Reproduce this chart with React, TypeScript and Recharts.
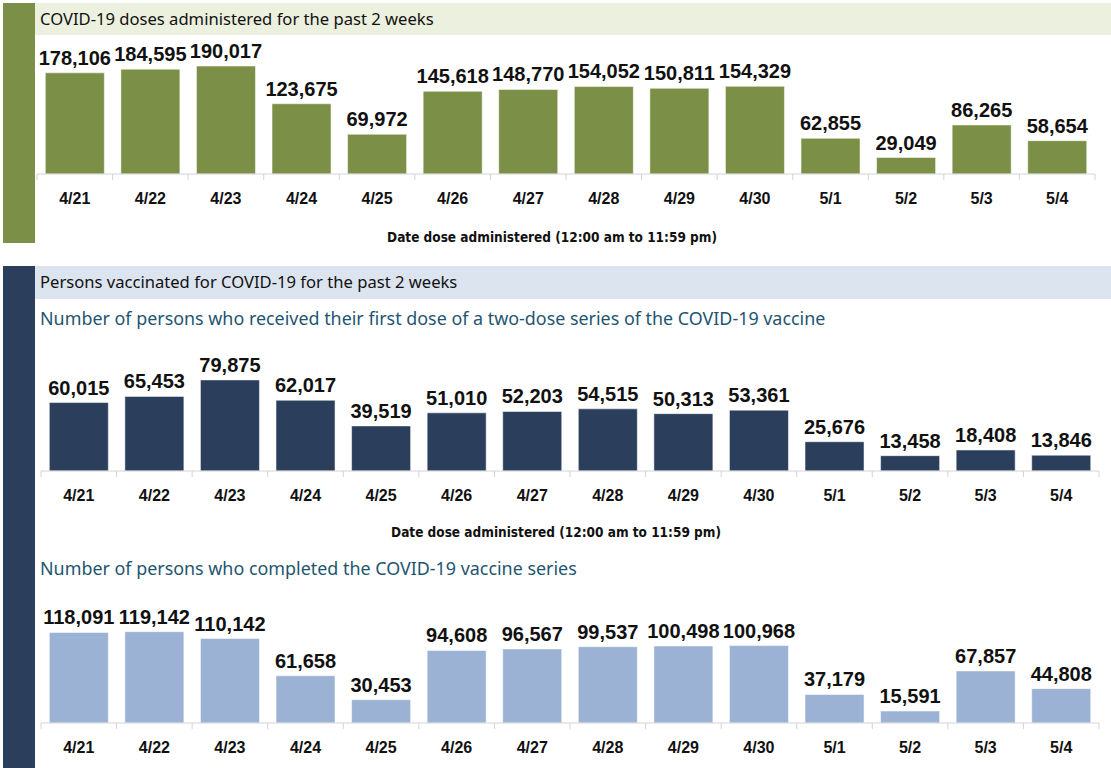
import React from 'react';
import { BarChart, Bar, XAxis, YAxis, LabelList } from 'recharts';

// COVID-19 vaccine doses - last 2 weeks (4/21 - 5/4)
const DATES = ['4/21', '4/22', '4/23', '4/24', '4/25', '4/26', '4/27', '4/28', '4/29', '4/30', '5/1', '5/2', '5/3', '5/4'];
const DOSES = [178106, 184595, 190017, 123675, 69972, 145618, 148770, 154052, 150811, 154329, 62855, 29049, 86265, 58654];
const FIRST_DOSE = [60015, 65453, 79875, 62017, 39519, 51010, 52203, 54515, 50313, 53361, 25676, 13458, 18408, 13846];
const COMPLETED = [118091, 119142, 110142, 61658, 30453, 94608, 96567, 99537, 100498, 100968, 37179, 15591, 67857, 44808];

const DATA = DATES.map((date, i) => ({
  date,
  doses: DOSES[i],
  first: FIRST_DOSE[i],
  completed: COMPLETED[i],
}));

const GREEN = '#7b8f47';
const NAVY = '#2b3e5c';
const LIGHT_BLUE = '#9bb2d5';
const TEAL_TEXT = '#1f5570';

const SANS = "'Liberation Sans', Arial, sans-serif";
const TEXT_SANS = "'Noto Sans', 'Liberation Sans', sans-serif";
const AXIS_TITLE = 'Date dose administered (12:00 am to 11:59 pm)';

const fmt = (v: any) => Number(v).toLocaleString('en-US');

// tick label + excel style boundary tick marks
function DateTick(props: any) {
  const { x, y, payload, index, visibleTicksCount, width } = props;
  const half = payload.offset || width / visibleTicksCount / 2;
  const last = index === visibleTicksCount - 1;
  return (
    <g>
      <line x1={x - half} x2={x - half} y1={y - 8} y2={y - 2} stroke="#d4d4d4" />
      {last && <line x1={x + half} x2={x + half} y1={y - 8} y2={y - 2} stroke="#d4d4d4" />}
      <text x={x} y={y + 22} textAnchor="middle" fontFamily={SANS} fontWeight="bold" fontSize={16} fill="#111">
        {payload.value}
      </text>
    </g>
  );
}

function DailyBars(props: {
  dataKey: string;
  color: string;
  max: number;
  top: number;
  height: number;
  marginTop: number;
  marginLeft: number;
  marginRight: number;
  axisHeight: number;
  axisTitle?: string;
}) {
  const { dataKey, color, max, top, height, marginTop, marginLeft, marginRight, axisHeight, axisTitle } = props;
  return (
    <div style={{ position: 'absolute', left: 35, top }}>
      <BarChart
        width={1076}
        height={height}
        data={DATA}
        margin={{ top: marginTop, right: marginRight, left: marginLeft, bottom: 0 }}
        barCategoryGap="11%"
      >
        <XAxis
          dataKey="date"
          height={axisHeight}
          axisLine={{ stroke: '#d4d4d4' }}
          tickLine={false}
          tick={<DateTick />}
          interval={0}
          label={
            axisTitle
              ? {
                  value: axisTitle,
                  position: 'insideBottom',
                  offset: 8,
                  dx: -14,
                  style: {
                    fontFamily: "'DejaVu Sans', sans-serif",
                    fontStretch: 'condensed',
                    fontWeight: 'bold',
                    fontSize: 13.5,
                    fill: '#111',
                  },
                }
              : undefined
          }
        />
        <YAxis hide domain={[0, max]} />
        <Bar dataKey={dataKey} fill={color} stroke="#ffffff" strokeOpacity={0.5} isAnimationActive={false}>
          <LabelList
            dataKey={dataKey}
            position="top"
            offset={8}
            formatter={fmt}
            style={{ fontFamily: SANS, fontWeight: 'bold', fontSize: 20, fill: '#111' }}
          />
        </Bar>
      </BarChart>
    </div>
  );
}

const headerText: React.CSSProperties = {
  position: 'absolute',
  left: 40,
  fontFamily: TEXT_SANS,
  fontSize: 16.6,
  color: '#111',
  whiteSpace: 'nowrap',
};

const subText: React.CSSProperties = {
  position: 'absolute',
  left: 40,
  fontFamily: TEXT_SANS,
  fontSize: 17.9,
  color: TEAL_TEXT,
  whiteSpace: 'nowrap',
};

export default function App() {
  return (
    <div style={{ position: 'absolute', left: 0, top: 0, width: 1111, height: 768, background: '#fff', overflow: 'hidden' }}>
      {/* section 1: doses */}
      <div style={{ position: 'absolute', left: 3, top: 3, width: 32, height: 240, background: GREEN }} />
      <div style={{ position: 'absolute', left: 35, top: 3, width: 1076, height: 32, background: '#ebf0df' }} />
      <div style={{ ...headerText, top: 7 }}>COVID-19 doses administered for the past 2 weeks</div>
      <DailyBars
        dataKey="doses"
        color={GREEN}
        max={250000}
        top={0}
        height={250}
        marginTop={32}
        marginLeft={2}
        marginRight={16}
        axisHeight={76}
        axisTitle={AXIS_TITLE}
      />

      {/* section 2: persons vaccinated */}
      <div style={{ position: 'absolute', left: 3, top: 266, width: 32, height: 502, background: NAVY }} />
      <div style={{ position: 'absolute', left: 35, top: 266, width: 1076, height: 33, background: '#dce4ef' }} />
      <div style={{ ...headerText, top: 270 }}>Persons vaccinated for COVID-19 for the past 2 weeks</div>
      <div style={{ ...subText, top: 306 }}>
        Number of persons who received their first dose of a two-dose series of the COVID-19 vaccine
      </div>
      <DailyBars
        dataKey="first"
        color={NAVY}
        max={100000}
        top={300}
        height={245}
        marginTop={57}
        marginLeft={6}
        marginRight={12}
        axisHeight={74}
        axisTitle={AXIS_TITLE}
      />

      <div style={{ ...subText, top: 556 }}>Number of persons who completed the COVID-19 vaccine series</div>
      <DailyBars
        dataKey="completed"
        color={LIGHT_BLUE}
        max={150000}
        top={585}
        height={183}
        marginTop={23}
        marginLeft={6}
        marginRight={12}
        axisHeight={45}
      />
    </div>
  );
}
